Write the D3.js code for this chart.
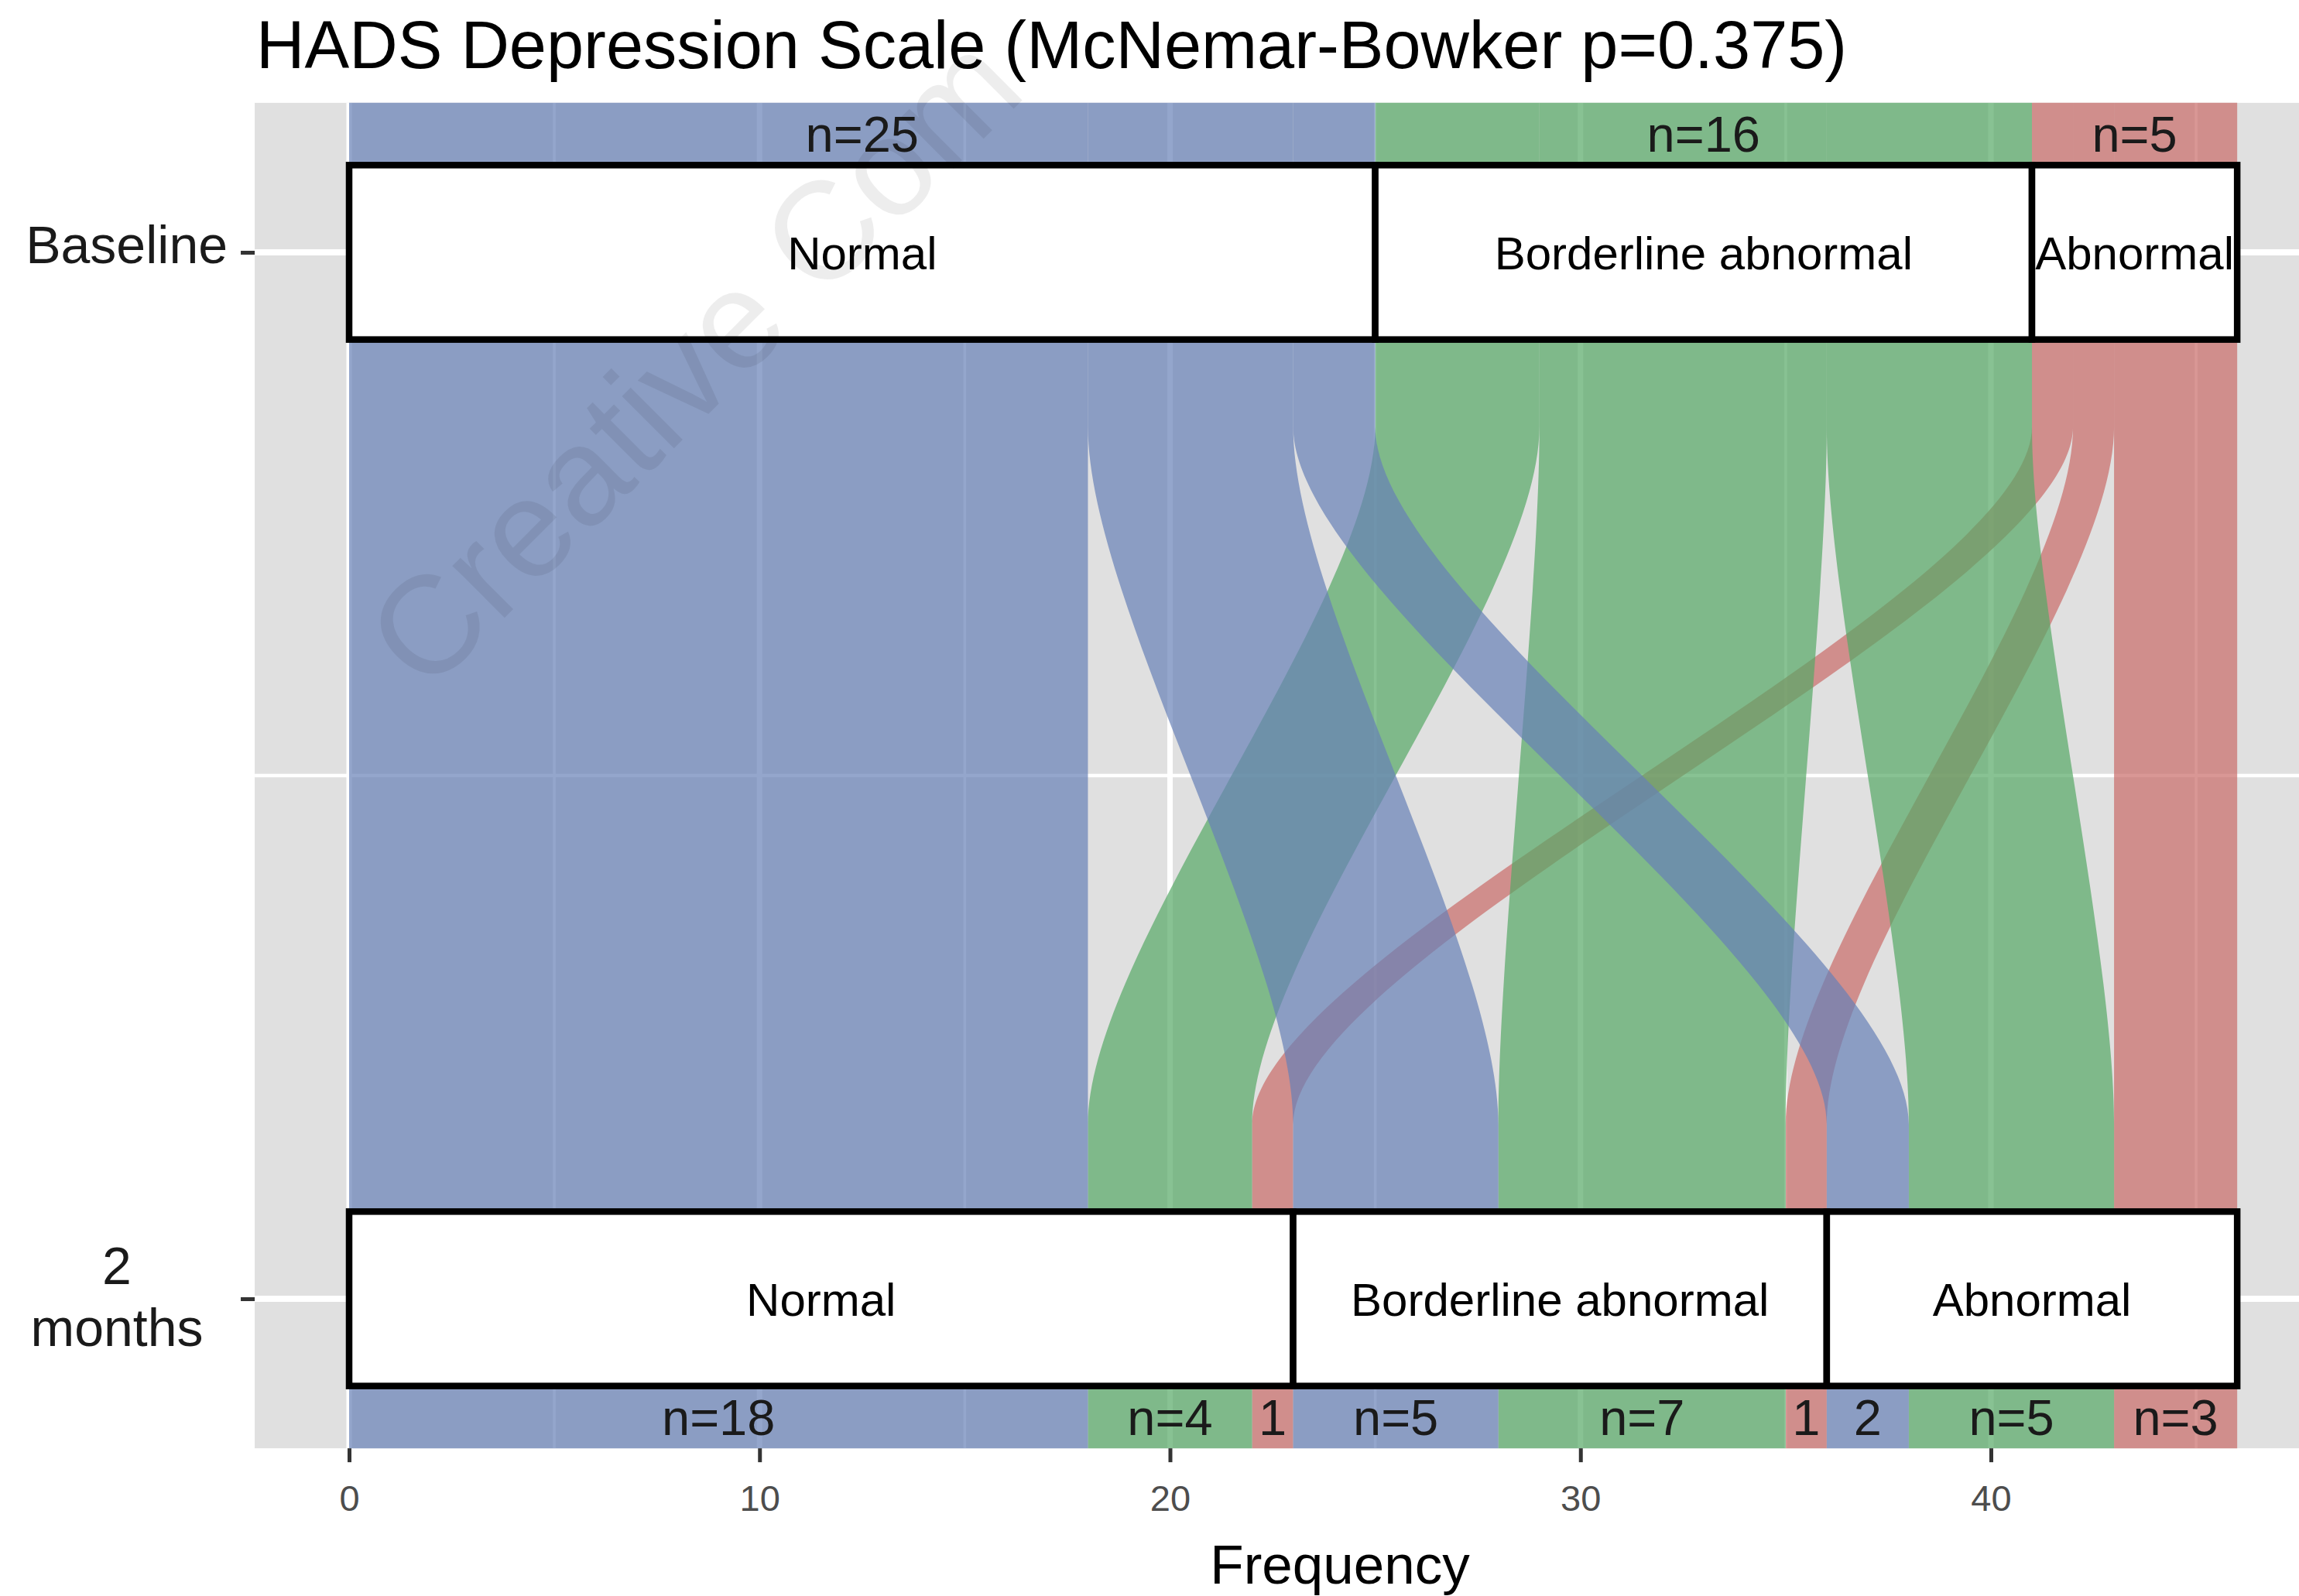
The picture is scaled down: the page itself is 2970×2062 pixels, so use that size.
<!DOCTYPE html>
<html>
<head>
<meta charset="utf-8">
<script src="https://cdn.jsdelivr.net/npm/d3@7"></script>
<style>
  html, body { margin: 0; padding: 0; background: #fff; }
  text { font-family: "Liberation Sans", Arial, Helvetica, sans-serif; }
</style>
</head>
<body>
<div id="chart"></div>
<script>
// -- DATA --
const timepoints = ["Baseline", "2 months"];
const categories = ["Normal", "Borderline abnormal", "Abnormal"];
// counts moving from each baseline category to the 2-month categories (Normal, Borderline, Abnormal)
const fromNormal = [18, 5, 2];
const fromBorderline = [4, 7, 5];
const fromAbnormal = [1, 1, 3];
const xTicks = [0, 10, 20, 30, 40];
const titleText = "HADS Depression Scale (McNemar-Bowker p=0.375)";

const moves = [fromNormal, fromBorderline, fromAbnormal];

// -- LAYOUT --
const W = 2970, H = 2062;
const fillColors = ["#6780B7", "#55A865", "#C96B68"];
const fillOpacity = 0.7;

const x = d3.scaleLinear().domain([0, 40]).range([451, 2572]);
const y = d3.scaleLinear().domain([1, 2]).range([326, 1678]);
const xPad = 2.3;   // panel expansion, data units
const yPad = 1 / 7; // panel expansion, axis units

const panel = {
  left: x(-xPad),
  right: W,
  top: y(1 - yPad),
  bottom: y(2 + yPad)
};
const step = y(2) - y(1);
const boxHalf = step / 12;
const lodeHalf = step / 6;

const svg = d3.select("#chart").append("svg")
  .attr("width", W)
  .attr("height", H)
  .style("background", "#fff");

svg.append("defs").append("clipPath").attr("id", "panelClip")
  .append("rect")
  .attr("x", panel.left).attr("y", panel.top)
  .attr("width", panel.right - panel.left)
  .attr("height", panel.bottom - panel.top);

// panel background
svg.append("rect")
  .attr("x", panel.left).attr("y", panel.top)
  .attr("width", panel.right - panel.left)
  .attr("height", panel.bottom - panel.top)
  .style("fill", "#E0E0E0");

// gridlines
const grid = svg.append("g").attr("clip-path", "url(#panelClip)");
const minorX = d3.range(-5, 55, 10);
grid.selectAll(".minorX").data(minorX).enter().append("line")
  .attr("x1", d => x(d)).attr("x2", d => x(d))
  .attr("y1", panel.top).attr("y2", panel.bottom)
  .style("stroke", "#fff").style("stroke-width", 3.5);
grid.selectAll(".majorX").data(xTicks).enter().append("line")
  .attr("x1", d => x(d)).attr("x2", d => x(d))
  .attr("y1", panel.top).attr("y2", panel.bottom)
  .style("stroke", "#fff").style("stroke-width", 7);
grid.append("line")
  .attr("x1", panel.left).attr("x2", panel.right)
  .attr("y1", y(1.5)).attr("y2", y(1.5))
  .style("stroke", "#fff").style("stroke-width", 4.5);
grid.selectAll(".majorY").data([1, 2]).enter().append("line")
  .attr("x1", panel.left).attr("x2", panel.right)
  .attr("y1", d => y(d)).attr("y2", d => y(d))
  .style("stroke", "#fff").style("stroke-width", 8);

// -- FLOWS --
// top stacking: inside each baseline category, ordered by destination
// bottom stacking: inside each 2-month category, ordered by origin
const flows = [];
let topPos = 0;
moves.forEach((row, i) => {
  row.forEach((n, j) => {
    flows.push({ from: i, to: j, n: n, top: topPos });
    topPos += n;
  });
});
let botPos = 0;
categories.forEach((c, j) => {
  categories.forEach((c2, i) => {
    const f = flows.find(f => f.from === i && f.to === j);
    f.bottom = botPos;
    botPos += f.n;
  });
});

const knot = 0.25;
function ribbonPath(f) {
  const xt = x(f.top), xb = x(f.bottom);
  const w = x(f.n) - x(0);
  const yt0 = y(1) - lodeHalf, yt1 = y(1) + lodeHalf;
  const yb0 = y(2) - lodeHalf, yb1 = y(2) + lodeHalf;
  const len = yb0 - yt1;
  const p = d3.path();
  p.moveTo(xt, yt0);
  p.lineTo(xt, yt1);
  p.bezierCurveTo(xt, yt1 + knot * len, xb, yb0 - knot * len, xb, yb0);
  p.lineTo(xb, yb1);
  p.lineTo(xb + w, yb1);
  p.lineTo(xb + w, yb0);
  p.bezierCurveTo(xb + w, yb0 - knot * len, xt + w, yt1 + knot * len, xt + w, yt1);
  p.lineTo(xt + w, yt0);
  p.closePath();
  return p.toString();
}

// abnormal drawn first, normal last (normal sits on top)
const drawOrder = flows.slice().sort((a, b) => b.from - a.from);
svg.append("g").attr("clip-path", "url(#panelClip)")
  .selectAll("path").data(drawOrder).enter().append("path")
  .attr("d", ribbonPath)
  .style("fill", d => fillColors[d.from])
  .style("fill-opacity", fillOpacity);

// -- STRATA --
const strata = [];
timepoints.forEach((t, a) => {
  let pos = 0;
  categories.forEach((c, k) => {
    const n = a === 0
      ? d3.sum(moves[k])
      : d3.sum(moves, row => row[k]);
    strata.push({ axis: a + 1, name: c, start: pos, n: n });
    pos += n;
  });
});

const strataG = svg.append("g");
strataG.selectAll("rect").data(strata).enter().append("rect")
  .attr("x", d => x(d.start))
  .attr("y", d => y(d.axis) - boxHalf)
  .attr("width", d => x(d.n) - x(0))
  .attr("height", boxHalf * 2)
  .style("fill", "#fff")
  .style("stroke", "#000")
  .style("stroke-width", 8.5);
strataG.selectAll("text").data(strata).enter().append("text")
  .attr("x", d => x(d.start + d.n / 2))
  .attr("y", d => y(d.axis) + 0.36 * 60)
  .attr("text-anchor", "middle")
  .style("font-size", "60px")
  .style("fill", "#000")
  .text(d => d.name);

// -- COUNT LABELS --
const nLabel = n => (n <= 2 ? `${n}` : `n=${n}`);
const topBandMid = (panel.top + y(1) - boxHalf) / 2;
const botBandMid = (panel.bottom + y(2) + boxHalf) / 2;

svg.append("g").selectAll("text")
  .data(strata.filter(d => d.axis === 1)).enter().append("text")
  .attr("x", d => x(d.start + d.n / 2))
  .attr("y", topBandMid + 0.36 * 65)
  .attr("text-anchor", "middle")
  .style("font-size", "65px")
  .style("fill", "#1a1a1a")
  .text(d => nLabel(d.n));

svg.append("g").selectAll("text")
  .data(flows).enter().append("text")
  .attr("x", d => x(d.bottom + d.n / 2))
  .attr("y", botBandMid + 0.36 * 65)
  .attr("text-anchor", "middle")
  .style("font-size", "65px")
  .style("fill", "#1a1a1a")
  .text(d => nLabel(d.n));

// -- AXES --
const xAxis = svg.append("g")
  .attr("transform", `translate(0, ${panel.bottom})`)
  .call(d3.axisBottom(x).tickValues(xTicks).tickSize(18).tickPadding(29));
xAxis.select(".domain").remove();
xAxis.selectAll(".tick line").style("stroke", "#333").style("stroke-width", 5);
xAxis.selectAll(".tick text")
  .style("font-size", "47px")
  .style("fill", "#4D4D4D")
  .style("font-family", "'Liberation Sans', Arial, sans-serif");

const yAxis = svg.append("g")
  .attr("transform", `translate(${panel.left}, 0)`)
  .call(d3.axisLeft(y).tickValues([1, 2]).tickSize(18).tickPadding(17)
    .tickFormat((d, i) => timepoints[i]));
yAxis.select(".domain").remove();
yAxis.selectAll(".tick line").style("stroke", "#333").style("stroke-width", 5);
yAxis.selectAll(".tick text")
  .attr("dy", "0.2em")
  .style("font-size", "68px")
  .style("fill", "#1a1a1a")
  .style("font-family", "'Liberation Sans', Arial, sans-serif");

// the second label wraps onto two centred lines
const secondLabel = yAxis.selectAll(".tick text").filter((d, i) => i === 1);
const words = timepoints[1].split(" ");
secondLabel.text(null)
  .attr("text-anchor", "middle")
  .attr("dy", null)
  .attr("x", 151 - panel.left)
  .attr("y", 0);
secondLabel.selectAll("tspan").data(words).enter().append("tspan")
  .attr("x", 151 - panel.left)
  .attr("y", (d, i) => (i === 0 ? -20 : 60))
  .text(d => d);

svg.append("text")
  .attr("x", 1731)
  .attr("y", 2046)
  .attr("text-anchor", "middle")
  .style("font-size", "71px")
  .style("fill", "#000")
  .text("Frequency");

// title
svg.append("text")
  .attr("x", panel.left + 2)
  .attr("y", 88)
  .style("font-size", "86.5px")
  .style("fill", "#000")
  .text(titleText);

// faint watermark over the figure (only the part inside the picture)
svg.append("text")
  .attr("transform", "translate(551, 899) rotate(-45)")
  .style("font-size", "180px")
  .style("fill", "#000")
  .style("fill-opacity", 0.07)
  .text("Creative Com");
</script>
</body>
</html>
